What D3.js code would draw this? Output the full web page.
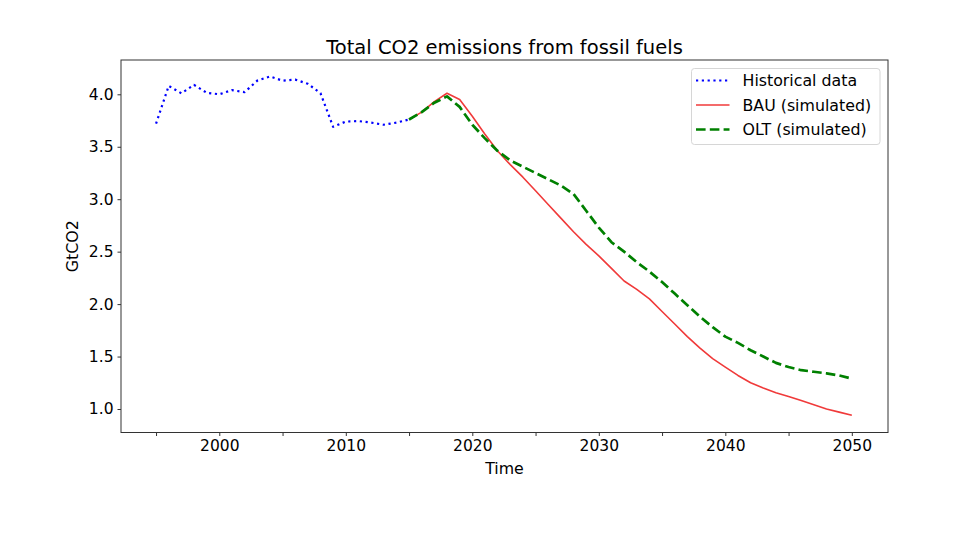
<!DOCTYPE html>
<html>
<head>
<meta charset="utf-8">
<script src="https://cdn.jsdelivr.net/npm/d3@7"></script>
<style>
  html, body { margin: 0; padding: 0; background: #fff; }
  svg { display: block; }
  text { font-family: "DejaVu Sans", sans-serif; fill: #000; }
</style>
</head>
<body>
<svg id="chart" width="980" height="560"></svg>
<script>
// ---- data ----
const histYears = d3.range(1995, 2016);
const histValues = [3.72, 4.08, 4.01, 4.09, 4.015, 4.0, 4.04, 4.02, 4.13, 4.17, 4.13,
                    4.14, 4.10, 4.01, 3.69, 3.74, 3.745, 3.73, 3.71, 3.73, 3.76];
const simYears = d3.range(2015, 2051);
const bauValues = [3.76, 3.83, 3.93, 4.01, 3.95, 3.79, 3.62, 3.46, 3.33, 3.21, 3.08, 2.95,
                   2.82, 2.69, 2.57, 2.46, 2.34, 2.22, 2.14, 2.05, 1.93, 1.81, 1.69, 1.58,
                   1.48, 1.40, 1.32, 1.25, 1.20, 1.155, 1.12, 1.08, 1.04, 1.00, 0.97, 0.94];
const oltValues = [3.76, 3.83, 3.92, 3.98, 3.88, 3.71, 3.58, 3.46, 3.37, 3.31, 3.25, 3.19,
                   3.13, 3.05, 2.89, 2.73, 2.59, 2.50, 2.40, 2.31, 2.21, 2.10, 1.99, 1.88,
                   1.78, 1.69, 1.63, 1.56, 1.50, 1.44, 1.40, 1.37, 1.355, 1.34, 1.32, 1.29];
const xTickValues = [1995, 2000, 2005, 2010, 2015, 2020, 2025, 2030, 2035, 2040, 2045, 2050];
const xTickLabels = [2000, 2010, 2020, 2030, 2040, 2050];
const yTickValues = [1.0, 1.5, 2.0, 2.5, 3.0, 3.5, 4.0];
const seriesNames = ["Historical data", "BAU (simulated)", "OLT (simulated)"];
const titleText = "Total CO2 emissions from fossil fuels";
const xLabel = "Time";
const yLabel = "GtCO2";

// ---- layout ----
const svg = d3.select("#chart");
const L = 121, R = 888, T = 60, B = 432.5;

const x = d3.scaleLinear().domain([1992.23, 2052.86]).range([L, R]);
const y = d3.scaleLinear().domain([0.776, 4.327]).range([B, T]);

const styles = [
  { color: "#0000ff", width: 2.2, dash: "2.2,3.6" },
  { color: "#f03a3a", width: 1.6, dash: null },
  { color: "#008000", width: 2.7, dash: "9.6,4.2" }
];

// axes
const xAxis = d3.axisBottom(x).tickValues(xTickValues).tickSize(3.5).tickPadding(4)
  .tickFormat(d => xTickLabels.includes(d) ? String(d) : "");
const yAxis = d3.axisLeft(y).tickValues(yTickValues).tickSize(3.5).tickPadding(4)
  .tickFormat(d3.format(".1f"));

const gx = svg.append("g").attr("transform", `translate(0,${B})`).call(xAxis);
const gy = svg.append("g").attr("transform", `translate(${L},0)`).call(yAxis);
[gx, gy].forEach(g => {
  g.select(".domain").remove();
  g.selectAll("line").attr("stroke", "#333").attr("stroke-width", 1);
  g.selectAll("text").style("font-family", "DejaVu Sans, sans-serif")
    .style("font-size", "15.5px").attr("fill", "#111");
});

// lines
const line = d3.line().x(d => x(d[0])).y(d => y(d[1]));
const datasets = [
  histYears.map((yr, i) => [yr, histValues[i]]),
  simYears.map((yr, i) => [yr, bauValues[i]]),
  simYears.map((yr, i) => [yr, oltValues[i]])
];
svg.append("defs").append("clipPath").attr("id", "clip")
  .append("rect").attr("x", L).attr("y", T).attr("width", R - L).attr("height", B - T);
const plot = svg.append("g").attr("clip-path", "url(#clip)");
datasets.forEach((ds, i) => {
  plot.append("path").datum(ds).attr("d", line)
    .attr("fill", "none").attr("stroke", styles[i].color)
    .attr("stroke-width", styles[i].width)
    .attr("stroke-dasharray", styles[i].dash)
    .attr("stroke-linejoin", "round");
});

// frame
svg.append("rect").attr("x", L).attr("y", T).attr("width", R - L).attr("height", B - T)
  .attr("fill", "none").attr("stroke", "#333").attr("stroke-width", 1);

// title and axis labels
svg.append("text").attr("x", (L + R) / 2).attr("y", 53.5).attr("text-anchor", "middle")
  .style("font-size", "19.5px").text(titleText);
svg.append("text").attr("x", (L + R) / 2).attr("y", 474).attr("text-anchor", "middle")
  .style("font-size", "15.8px").text(xLabel);
svg.append("text").attr("transform", `translate(78,${(T + B) / 2}) rotate(-90)`)
  .attr("text-anchor", "middle").style("font-size", "15.8px").text(yLabel);

// legend
const lg = svg.append("g");
lg.append("rect").attr("x", 691.5).attr("y", 68.5).attr("width", 188.5).attr("height", 76)
  .attr("rx", 3).attr("fill", "#fff").attr("fill-opacity", 0.85)
  .attr("stroke", "#d6d6d6").attr("stroke-width", 1);
const rowY = [80.5, 105, 129.5];
seriesNames.forEach((name, i) => {
  lg.append("line").attr("x1", 696).attr("x2", 729.5).attr("y1", rowY[i]).attr("y2", rowY[i])
    .attr("stroke", styles[i].color).attr("stroke-width", styles[i].width)
    .attr("stroke-dasharray", styles[i].dash);
  lg.append("text").attr("x", 742.5).attr("y", rowY[i]).attr("dy", "0.36em")
    .style("font-size", "15.8px").text(name);
});
</script>
</body>
</html>
